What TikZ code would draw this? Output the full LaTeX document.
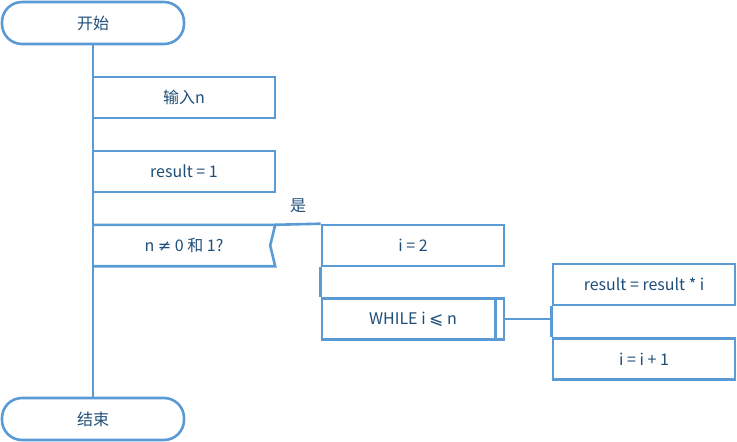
\documentclass[tikz,border=0pt]{standalone}
\usepackage{fontspec}
\setmainfont{Noto Sans CJK SC}
\newfontfamily\symfont{DejaVu Sans}
\definecolor{lineblue}{HTML}{5B9BD5}
\definecolor{textblue}{HTML}{1F4E79}
\begin{document}
\begin{tikzpicture}[x=1pt,y=-1pt,
  every node/.style={font=\fontsize{16}{19}\selectfont, text=textblue},
  conn/.style={draw=lineblue, line width=2.6pt},
  procbox/.style={draw=lineblue, line width=2.6pt, minimum width=182pt, minimum height=41pt, inner sep=0pt, fill=white},
  termbox/.style={draw=lineblue, line width=2.6pt, minimum width=182pt, minimum height=42pt, rounded corners=20pt, inner sep=0pt, fill=white}]
\useasboundingbox (0,0) rectangle (737,442);
% main spine
\coordinate (spineTop) at (93,44);
\coordinate (spineBot) at (93,398);
\draw[conn] (spineTop) -- (spineBot);
\node[termbox] (start) at (93,23) {开始};
\node[termbox] (stop) at (93,419) {结束};
\node[procbox] (input) at (184,97.5) {输入n};
\node[procbox] (init) at (184,171.5) {result = 1};
% decision
\node[inner sep=0pt, minimum width=182pt, minimum height=41pt] (dec) at (184,245.5) {n {\symfont\fontsize{16}{18}\selectfont ≠} 0 和 1?};
\draw[conn, line join=miter] (dec.north west) -- (dec.north east) -- ([xshift=-5pt]dec.east) -- (dec.south east) -- (dec.south west);
% yes branch
\node[procbox] (i2) at (413,245.5) {i = 2};
\draw[conn] (dec.north east) -- (i2.north west);
\node (yes) at (298,206) {是};
\node[procbox] (loop) at (413,319) {WHILE i {\symfont\fontsize{17}{18}\selectfont ⩽} n};
\draw[conn] ([xshift=-10pt]loop.north east) -- ([xshift=-10pt]loop.south east);
\draw[conn] (i2.south west) -- (loop.north west);
% loop body
\node[procbox] (body1) at (644,284.5) {result = result * i};
\node[procbox] (body2) at (644,359) {i = i + 1};
\draw[conn] (body1.south west) -- (body2.north west);
\draw[conn] (loop.east) -- (loop.east -| body1.west);
\end{tikzpicture}
\end{document}
